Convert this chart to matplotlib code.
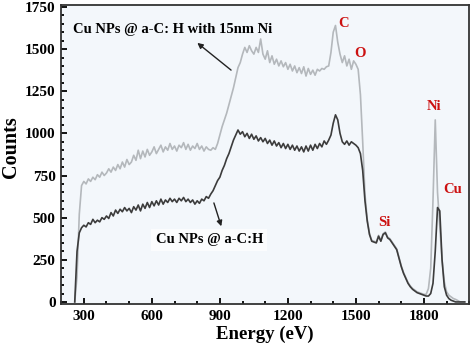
import matplotlib
matplotlib.use('Agg')
import matplotlib.pyplot as plt
import numpy as np
from matplotlib.ticker import MultipleLocator

plt.rcParams['font.family'] = 'Liberation Serif'
plt.rcParams['font.weight'] = 'bold'

# energy grid (eV) and counts
energy = np.arange(260, 1990, 10)

ni_counts = [
    0, 150, 520, 690, 715, 700, 730, 715, 740, 725,          # 260-350
    755, 740, 770, 750, 765, 790, 770, 800, 780, 815,        # 360-450
    790, 830, 800, 845, 815, 830, 870, 840, 900, 850,        # 460-550
    895, 860, 905, 870, 890, 920, 880, 905, 930, 890,        # 560-650
    920, 900, 940, 905, 925, 895, 930, 915, 945, 905,        # 660-750
    935, 900, 925, 910, 940, 905, 925, 895, 920, 905,        # 760-850
    900, 915, 905, 940, 990, 1040, 1080, 1120, 1170, 1220,   # 860-950
    1270, 1330, 1390, 1420, 1470, 1510, 1480, 1520, 1490, 1470,  # 960-1050
    1510, 1480, 1560, 1470, 1440, 1490, 1420, 1460, 1410, 1440,  # 1060-1150
    1400, 1430, 1395, 1420, 1380, 1410, 1370, 1400, 1360, 1390,  # 1160-1250
    1355, 1395, 1340, 1385, 1350, 1375, 1345, 1380, 1370, 1385,  # 1260-1350
    1380, 1395, 1400, 1480, 1600, 1640, 1540, 1470, 1420, 1460,  # 1360-1450
    1400, 1440, 1380, 1430, 1410, 1380, 1230, 950, 640, 490,     # 1460-1550
    405, 365, 360, 355, 395, 365, 405, 415, 385, 375,            # 1560-1650
    355, 335, 315, 265, 215, 175, 145, 115, 95, 80,              # 1660-1750
    70, 60, 55, 50, 45, 45, 80, 200, 600, 1080,                  # 1760-1850
    650, 450, 250, 120, 60, 40, 30, 20, 15, 8,                   # 1860-1950
    0, 0, 0,                                                     # 1960-1980
]

cu_counts = [
    0, 300, 410, 440, 455, 445, 470, 460, 490, 470,          # 260-350
    485, 475, 500, 490, 510, 495, 530, 510, 545, 525,        # 360-450
    550, 535, 560, 540, 555, 530, 565, 545, 575, 540,        # 460-550
    580, 555, 590, 560, 595, 570, 600, 575, 610, 580,        # 560-650
    605, 590, 615, 595, 610, 590, 615, 600, 620, 595,        # 660-750
    610, 590, 605, 580, 600, 585, 610, 600, 625, 615,        # 760-850
    640, 660, 690, 720, 740, 780, 810, 850, 880, 920,        # 860-950
    960, 990, 1020, 995, 1010, 980, 1000, 970, 995, 965,     # 960-1050
    985, 955, 975, 950, 970, 940, 960, 930, 955, 925,        # 1060-1150
    945, 915, 940, 910, 935, 905, 930, 900, 925, 895,        # 1160-1250
    920, 890, 925, 895, 930, 900, 935, 910, 940, 920,        # 1260-1350
    955, 935, 960, 990, 1060, 1110, 1080, 1000, 950, 935,    # 1360-1450
    955, 930, 950, 940, 930, 915, 880, 780, 600, 480,        # 1460-1550
    400, 360, 355, 350, 390, 360, 400, 410, 380, 370,        # 1560-1650
    350, 330, 310, 260, 210, 170, 140, 110, 90, 75,          # 1660-1750
    65, 55, 50, 45, 40, 35, 35, 50, 110, 300,                # 1760-1850
    560, 540, 250, 90, 40, 20, 10, 5, 0, 0,                  # 1860-1950
    0, 0, 0,                                                 # 1960-1980
]

label_ni = 'Cu NPs @ a-C: H with 15nm Ni'
label_cu = 'Cu NPs @ a-C:H'
elements = ['C', 'O', 'Si', 'Ni', 'Cu']
element_pos = [(1444, 1650), (1519, 1475), (1625, 470), (1845, 1160), (1925, 665)]

fig = plt.figure(figsize=(4.74, 3.51), dpi=100)
ax = fig.add_axes([0.129, 0.134, 0.861, 0.852])
ax.set_facecolor('#f3f7fb')

ax.plot(energy, ni_counts, color='#b4b8bc', lw=1.2)
ax.plot(energy, cu_counts, color='#3c3c3c', lw=1.2)

ax.set_xlim(200, 2000)
ax.set_ylim(-12, 1762)
ax.xaxis.set_minor_locator(MultipleLocator(100))
ax.yaxis.set_major_locator(MultipleLocator(250))
ax.yaxis.set_minor_locator(MultipleLocator(50))
ax.set_xticks(range(300, 2000, 300))
ax.tick_params(which='both', direction='in', width=1.3, labelsize=11, pad=4)
ax.tick_params(which='major', length=4)
ax.tick_params(which='minor', length=2.5)
for s in ax.spines.values():
    s.set_linewidth(1.3)
    s.set_color('#333333')

ax.set_xlabel('Energy (eV)', fontsize=13.5, fontweight='bold', labelpad=2)
ax.set_ylabel('Counts', fontsize=14.5, fontweight='bold')
ax.yaxis.set_label_coords(-0.098, 0.525)

# curve labels with arrows
ax.text(690, 1617, label_ni, fontsize=10.5, ha='center', va='center')
ax.annotate('', xy=(791, 1547), xytext=(959, 1365),
            arrowprops=dict(arrowstyle='-|>', color='#222222', lw=1, mutation_scale=8))
ax.text(853, 369, label_cu, fontsize=10.5, ha='center', va='center',
        bbox=dict(boxstyle='square,pad=0.3', fc='white', ec='none', alpha=0.7))
ax.annotate('', xy=(910, 433), xytext=(870, 603),
            arrowprops=dict(arrowstyle='-|>', color='#222222', lw=1, mutation_scale=8))

for name, (ex, ey) in zip(elements, element_pos):
    ax.text(ex, ey, name, color='#cc1111', fontsize=10.5, ha='center', va='center')

fig.savefig('out.png', dpi=100)
